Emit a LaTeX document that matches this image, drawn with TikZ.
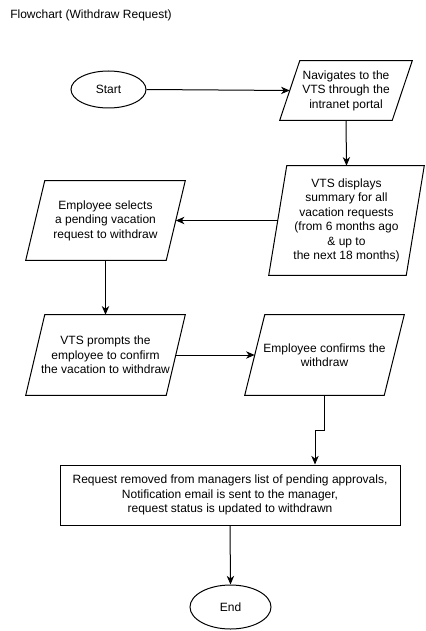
\documentclass[tikz,border=0pt]{standalone}
\usepackage{fontspec}
\setmainfont{Liberation Sans}
\usetikzlibrary{arrows.meta,calc,shapes.geometric}
\newcommand\PX{0.75pt}
\begin{document}
\begin{tikzpicture}[x=0.75pt,y=-0.75pt,
  every node/.style={font=\fontsize{9}{10.9}\selectfont, align=center, inner sep=0pt},
  line/.style={draw=black, line width=0.75pt},
  arr/.style={line, -{Stealth[length=6.5pt,width=5.5pt,inset=2pt]}},
  term/.style={line, ellipse},
  procbox/.style={line, rectangle}]
\useasboundingbox (0,0) rectangle (425,631);

\node[anchor=west] (title) at (10,15) {Flowchart (Withdraw Request)};

\node[term, minimum width=75*\PX, minimum height=37*\PX] (start) at (108.5,89.5) {Start};

\node[minimum width=112*\PX, minimum height=59*\PX] (nav) at (346,90.5) {Navigates to the\\VTS through the\\intranet portal};
\draw[line] ($(nav.north west)+(10,0)$) -- ($(nav.north east)+(10,0)$) -- ($(nav.south east)-(10,0)$) -- ($(nav.south west)-(10,0)$) -- cycle;

\node[minimum width=137*\PX, minimum height=109*\PX] (disp) at (346.5,220.5) {VTS displays\\summary for all\\vacation requests\\(from 6 months ago\\\& up to\\the next 18 months)};
\draw[line] ($(disp.north west)+(9,0)$) -- ($(disp.north east)+(9,0)$) -- ($(disp.south east)-(9,0)$) -- ($(disp.south west)-(9,0)$) -- cycle;

\node[minimum width=140*\PX, minimum height=79*\PX] (sel) at (105.5,220.5) {Employee selects\\a pending vacation\\request to withdraw};
\draw[line] ($(sel.north west)+(9.5,0)$) -- ($(sel.north east)+(9.5,0)$) -- ($(sel.south east)-(9.5,0)$) -- ($(sel.south west)-(9.5,0)$) -- cycle;

\node[minimum width=140*\PX, minimum height=80*\PX] (prm) at (105.5,355) {VTS prompts the\\employee to confirm\\the vacation to withdraw};
\draw[line] ($(prm.north west)+(9.5,0)$) -- ($(prm.north east)+(9.5,0)$) -- ($(prm.south east)-(9.5,0)$) -- ($(prm.south west)-(9.5,0)$) -- cycle;

\node[minimum width=139*\PX, minimum height=80*\PX] (conf) at (324.5,355) {Employee confirms the\\withdraw};
\draw[line] ($(conf.north west)+(10,0)$) -- ($(conf.north east)+(10,0)$) -- ($(conf.south east)-(10,0)$) -- ($(conf.south west)-(10,0)$) -- cycle;

\node[procbox, minimum width=340*\PX, minimum height=60*\PX] (rem) at (230,495) {Request removed from managers list of pending approvals,\\Notification email is sent to the manager,\\request status is updated to withdrawn};

\node[term, minimum width=81*\PX, minimum height=44*\PX] (end) at (230.5,607) {End};

\coordinate (j) at (315,430);

\draw[arr] (start.east) -- (nav.west);
\draw[arr] (nav.south) -- (disp.north);
\draw[arr] (disp.west) -- (sel.east);
\draw[arr] (sel.south) -- (prm.north);
\draw[arr] (prm.east) -- (conf.west);
\draw[arr] (conf.south) |- (j) -- (j |- rem.north);
\draw[arr] (rem.south) -- (end.north);
\end{tikzpicture}
\end{document}
